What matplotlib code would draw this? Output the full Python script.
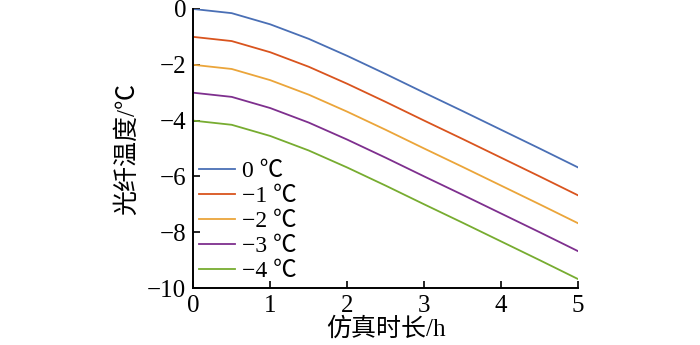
import numpy as np
import matplotlib
matplotlib.use("Agg")
import matplotlib.pyplot as plt

plt.rcParams['font.family'] = ['Liberation Serif', 'Noto Sans CJK SC', 'DejaVu Sans']
plt.rcParams['axes.unicode_minus'] = True

# simulation time (h)
t = [0, 0.5, 1, 1.5, 2, 2.5, 3, 3.5, 4, 4.5, 5]

# fibre temperature for each initial temperature
temp_0 = [0, -0.15, -0.55, -1.07, -1.68, -2.33, -3.0, -3.66, -4.33, -5.0, -5.68]
temp_m1 = [-1.0, -1.15, -1.55, -2.07, -2.68, -3.33, -4.0, -4.66, -5.33, -6.0, -6.68]
temp_m2 = [-2.0, -2.15, -2.55, -3.07, -3.68, -4.33, -5.0, -5.66, -6.33, -7.0, -7.68]
temp_m3 = [-3.0, -3.15, -3.55, -4.07, -4.68, -5.33, -6.0, -6.66, -7.33, -8.0, -8.68]
temp_m4 = [-4.0, -4.15, -4.55, -5.07, -5.68, -6.33, -7.0, -7.66, -8.33, -9.0, -9.68]

labels = ['0 ℃', '−1 ℃', '−2 ℃', '−3 ℃', '−4 ℃']
colors = ['#4a6fb5', '#d9541e', '#eba53a', '#7e2f8e', '#77ac30']
series = [temp_0, temp_m1, temp_m2, temp_m3, temp_m4]

fig = plt.figure(figsize=(7, 3.45), dpi=100)
ax = fig.add_axes([0.276, 0.165, 0.55, 0.809])

for y, c, lab in zip(series, colors, labels):
    ax.plot(t, y, color=c, lw=1.3, label=lab)

ax.set_xlim(0, 5)
ax.set_ylim(-10, 0)
ax.set_xticks([0, 1, 2, 3, 4, 5])
ax.set_yticks([0, -2, -4, -6, -8, -10])
ax.tick_params(direction='in', length=5, width=1.2, labelsize=18, pad=5)
for s in ['top', 'right']:
    ax.spines[s].set_visible(False)
for s in ['left', 'bottom']:
    ax.spines[s].set_linewidth(1.4)

ax.set_xlabel('仿真时长/h', fontsize=18, labelpad=0)
ax.set_ylabel('光纤温度/℃', fontsize=18, labelpad=6)

ax.legend(loc='lower left', frameon=False, fontsize=17, handlelength=1.5,
          handletextpad=0.3, labelspacing=0.15, borderaxespad=0.1,
          borderpad=0.15)

plt.savefig('out.png', dpi=100)
